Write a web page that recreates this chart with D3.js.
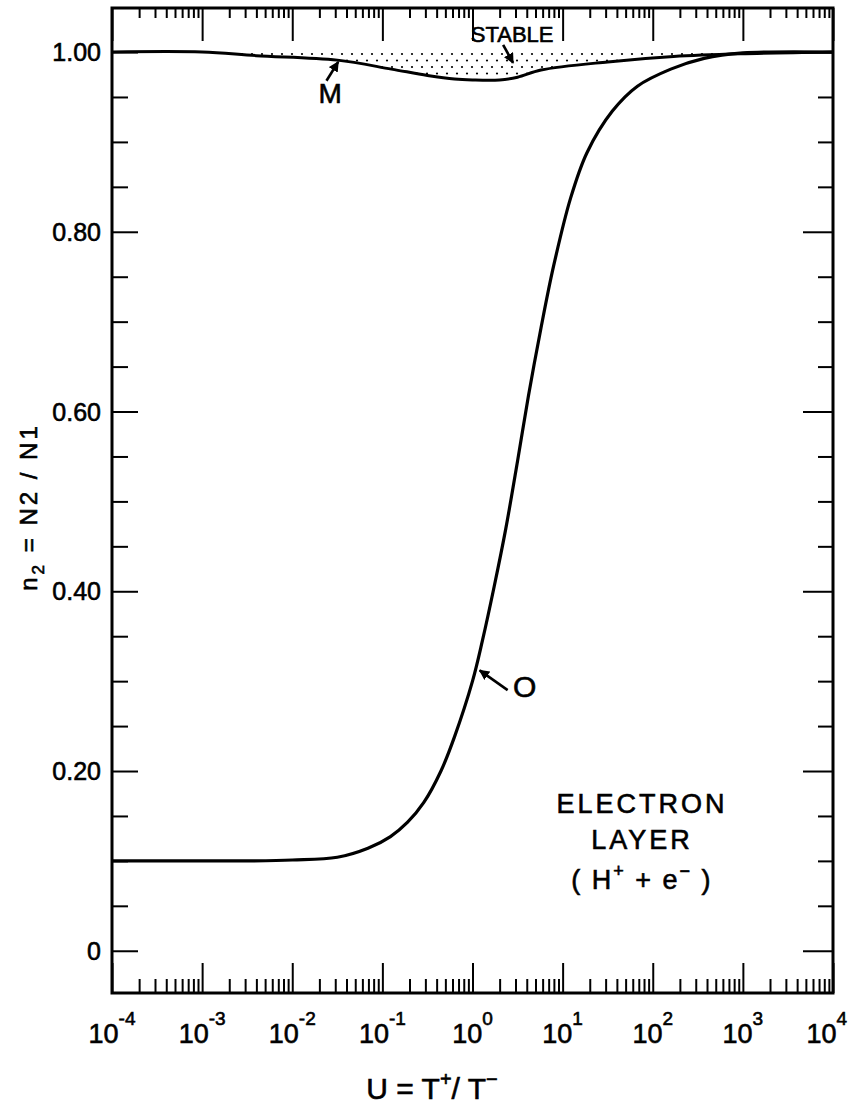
<!DOCTYPE html>
<html>
<head>
<meta charset="utf-8">
<script src="https://cdn.jsdelivr.net/npm/d3@7"></script>
<style>
  html, body { margin: 0; padding: 0; background: #fff; }
  svg { display: block; }
  text { fill: #000; stroke: #000; stroke-width: 0.6px; font-family: "Liberation Sans", Arial, sans-serif; }
</style>
</head>
<body>
<svg id="chart" width="848" height="1105"></svg>
<script>
// ---- data ----
const xExponents = [-4, -3, -2, -1, 0, 1, 2, 3, 4];
const yTickValues = [0, 0.20, 0.40, 0.60, 0.80, 1.00];
const yTickLabels = ["0", "0.20", "0.40", "0.60", "0.80", "1.00"];

// curve O : log10(U) vs n2
const oLogU = [-4, -3, -2.5, -2, -1.5, -1.16, -0.91, -0.72, -0.54, -0.35, -0.2, 0.0, 0.11, 0.24, 0.37, 0.50, 0.62, 0.76, 0.90, 1.09, 1.27, 1.55, 1.83, 2.2, 2.57, 3.0, 4.0];
const oN2   = [0.100, 0.100, 0.100, 0.101, 0.104, 0.114, 0.127, 0.143, 0.165, 0.200, 0.238, 0.300, 0.345, 0.405, 0.470, 0.545, 0.617, 0.693, 0.762, 0.838, 0.888, 0.934, 0.962, 0.981, 0.993, 0.999, 1.000];

// curve M : log10(U) vs n2 (boundary of the stable region)
const mLogU = [-4, -3, -2.4, -1.5, -0.9, -0.5, -0.2, 0.0, 0.3, 0.5, 0.76, 1.5, 2.23, 2.97, 4.0];
const mN2   = [1.000, 1.000, 0.996, 0.991, 0.981, 0.974, 0.970, 0.969, 0.969, 0.972, 0.980, 0.989, 0.995, 0.998, 1.000];

// ---- layout ----
const svg = d3.select("#chart");
const L = 112, R = 833, T = 8, B = 993;

const x = d3.scaleLog().domain([1e-4, 1e4]).range([L, R]);
const y = d3.scaleLinear().domain([-0.047, 1.049]).range([B, T]);

// pattern for the stippled stable region
const defs = svg.append("defs");
const pat = defs.append("pattern").attr("id", "dots")
  .attr("patternUnits", "userSpaceOnUse").attr("width", 10).attr("height", 13);
pat.append("circle").attr("cx", 2).attr("cy", 2).attr("r", 1.1).attr("fill", "#000");
pat.append("circle").attr("cx", 7).attr("cy", 8.5).attr("r", 1.1).attr("fill", "#000");

const marker = defs.append("marker").attr("id", "arrow")
  .attr("viewBox", "0 0 10 10").attr("refX", 9).attr("refY", 5)
  .attr("markerWidth", 4).attr("markerHeight", 4).attr("orient", "auto-start-reverse")
  .attr("markerUnits", "strokeWidth");
marker.append("path").attr("d", "M0,0 L10,5 L0,10 z").attr("fill", "#000");

const mData = mLogU.map((l, i) => ({ u: Math.pow(10, l), n: mN2[i] }));
const oData = oLogU.map((l, i) => ({ u: Math.pow(10, l), n: oN2[i] }));

// stable region
svg.append("path")
  .attr("d", d3.area().curve(d3.curveMonotoneX)
    .x(d => x(d.u)).y0(d => y(d.n)).y1(() => y(1.0) - 3)(mData))
  .attr("fill", "url(#dots)");

// frame
svg.append("rect").attr("x", L).attr("y", T).attr("width", R - L).attr("height", B - T)
  .attr("fill", "none").attr("stroke", "#000").attr("stroke-width", 3);

// ---- axes (ticks inward) ----
const decades = xExponents.map(e => Math.pow(10, e));
const minor = [];
for (let e = -4; e < 4; e++) for (let k = 2; k <= 9; k++) minor.push(k * Math.pow(10, e));

function styleAxis(g) {
  g.select(".domain").remove();
  g.selectAll(".tick line").attr("stroke", "#000").attr("stroke-width", 2);
  g.selectAll(".tick text").remove();
}
svg.append("g").attr("transform", `translate(0,${B})`)
  .call(d3.axisBottom(x).tickValues(minor).tickSize(-14).tickFormat("")).call(styleAxis);
svg.append("g").attr("transform", `translate(0,${B})`)
  .call(d3.axisBottom(x).tickValues(decades).tickSize(-30).tickFormat("")).call(styleAxis);
svg.append("g").attr("transform", `translate(0,${T})`)
  .call(d3.axisTop(x).tickValues(minor).tickSize(-10).tickFormat("")).call(styleAxis);
svg.append("g").attr("transform", `translate(0,${T})`)
  .call(d3.axisTop(x).tickValues(decades).tickSize(-33).tickFormat("")).call(styleAxis);

const yMinor = d3.range(0, 21).map(i => i * 0.05).filter(v => !yTickValues.some(t => Math.abs(t - v) < 1e-6));
svg.append("g").attr("transform", `translate(${L},0)`)
  .call(d3.axisLeft(y).tickValues(yMinor).tickSize(-16).tickFormat("")).call(styleAxis);
svg.append("g").attr("transform", `translate(${L},0)`)
  .call(d3.axisLeft(y).tickValues(yTickValues).tickSize(-26).tickFormat("")).call(styleAxis);
svg.append("g").attr("transform", `translate(${R},0)`)
  .call(d3.axisRight(y).tickValues(yMinor).tickSize(-15).tickFormat("")).call(styleAxis);
svg.append("g").attr("transform", `translate(${R},0)`)
  .call(d3.axisRight(y).tickValues(yTickValues).tickSize(-30).tickFormat("")).call(styleAxis);

// y tick labels
svg.append("g").selectAll("text").data(yTickValues).join("text")
  .attr("x", L - 11).attr("y", d => y(d)).attr("dy", "0.36em")
  .attr("text-anchor", "end").attr("font-size", 25)
  .text((d, i) => yTickLabels[i]);

// x tick labels 10^e
const xl = svg.append("g").selectAll("text").data(xExponents).join("text")
  .attr("x", (d, i) => i === xExponents.length - 1 ? 847 : x(Math.pow(10, d)))
  .attr("y", 1043)
  .attr("text-anchor", (d, i) => i === xExponents.length - 1 ? "end" : "middle")
  .attr("font-size", 27);
xl.append("tspan").text("10");
xl.append("tspan").attr("dy", -18).attr("font-size", 19).text(d => d < 0 ? "-" + (-d) : String(d));

// axis titles
const xt = svg.append("text").attr("x", 432).attr("y", 1099)
  .attr("text-anchor", "middle").attr("font-size", 30);
xt.append("tspan").text("U = T");
xt.append("tspan").attr("dy", -13).attr("font-size", 20).text("+");
xt.append("tspan").attr("dy", 13).text("/ T");
xt.append("tspan").attr("dy", -13).attr("font-size", 20).text("\u2212");

const yt = svg.append("text").attr("transform", "translate(37,507) rotate(-90)")
  .attr("text-anchor", "middle").attr("font-size", 24).attr("letter-spacing", 3);
yt.append("tspan").text("n");
yt.append("tspan").attr("dy", 7).attr("font-size", 17).text("2");
yt.append("tspan").attr("dy", -7).text(" = N2 / N1");

// ---- curves ----
const line = d3.line().curve(d3.curveCatmullRom.alpha(0.5)).x(d => x(d.u)).y(d => y(d.n));
svg.append("path").attr("d", line(mData)).attr("fill", "none")
  .attr("stroke", "#000").attr("stroke-width", 3).attr("stroke-linejoin", "round");
svg.append("path").attr("d", line(oData)).attr("fill", "none")
  .attr("stroke", "#000").attr("stroke-width", 3.2).attr("stroke-linejoin", "round");

// ---- annotations ----
function arrow(l1, n1, l2, n2) {
  svg.append("line")
    .attr("x1", x(Math.pow(10, l1))).attr("y1", y(n1))
    .attr("x2", x(Math.pow(10, l2))).attr("y2", y(n2))
    .attr("stroke", "#000").attr("stroke-width", 2.6).attr("marker-end", "url(#arrow)");
}
function label(l, n, txt, size) {
  return svg.append("text").attr("x", x(Math.pow(10, l))).attr("y", y(n))
    .attr("text-anchor", "middle").attr("font-size", size).text(txt);
}
// M
label(-1.58, 0.943, "M", 28);
arrow(-1.62, 0.968, -1.49, 0.989);
// STABLE
label(0.44, 1.011, "STABLE", 22);
arrow(0.34, 1.008, 0.45, 0.988);
// O
label(0.58, 0.282, "O", 30);
arrow(0.39, 0.290, 0.08, 0.312);

// ELECTRON LAYER
const ex = x(Math.pow(10, 1.88));
svg.append("text").attr("x", ex).attr("y", 813).attr("text-anchor", "middle")
  .attr("font-size", 27).attr("letter-spacing", 3).text("ELECTRON");
svg.append("text").attr("x", ex).attr("y", 849).attr("text-anchor", "middle")
  .attr("font-size", 27).attr("letter-spacing", 3).text("LAYER");
const he = svg.append("text").attr("x", ex).attr("y", 889).attr("text-anchor", "middle")
  .attr("font-size", 27).attr("letter-spacing", 2);
he.append("tspan").text("( H");
he.append("tspan").attr("dy", -12).attr("font-size", 18).text("+");
he.append("tspan").attr("dy", 12).text(" + e");
he.append("tspan").attr("dy", -12).attr("font-size", 18).text("\u2212");
he.append("tspan").attr("dy", 12).text(" )");
</script>
</body>
</html>
